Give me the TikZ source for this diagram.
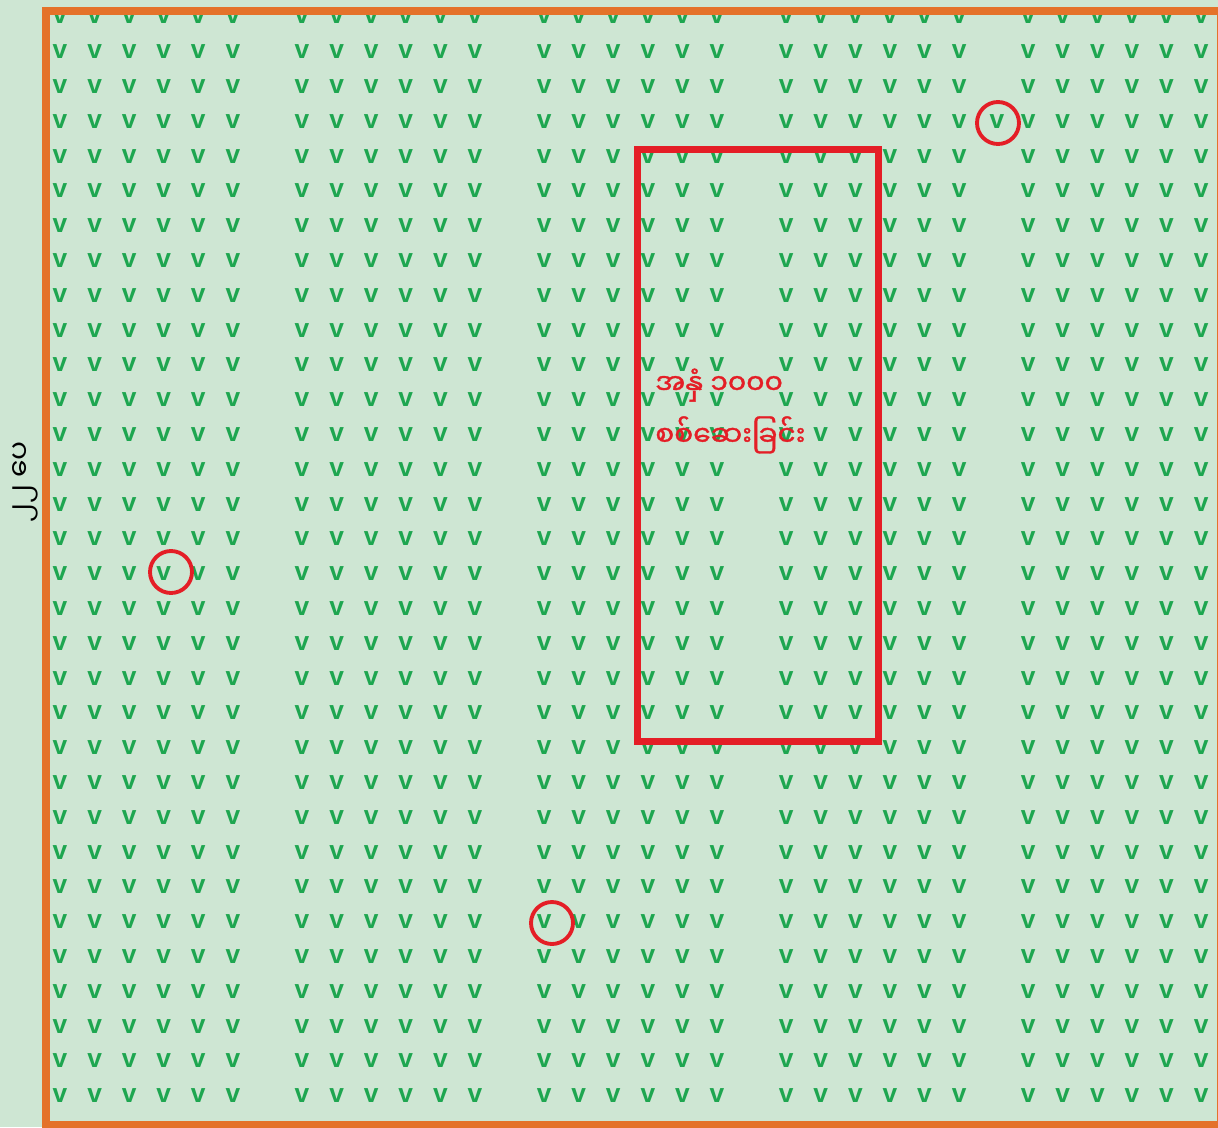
\documentclass[tikz,border=0pt]{standalone}
\usepackage{fontspec}
\setmainfont{Liberation Sans}
\newfontfamily\mmfont[Script=Myanmar]{Noto Sans Myanmar UI}
\newfontfamily\mmboldfont[Script=Myanmar,FakeBold=1.2]{Noto Sans Myanmar UI}
\usetikzlibrary{positioning}
\definecolor{fieldbg}{RGB}{206,230,211}
\definecolor{plantgreen}{RGB}{30,166,80}
\definecolor{edgeorange}{RGB}{228,114,42}
\definecolor{markred}{RGB}{228,30,38}

\begin{document}
\begin{tikzpicture}[x=0.02cm,y=-0.02cm,
  plant/.style={text=plantgreen,font=\fontsize{15}{15}\selectfont\bfseries,inner sep=0pt},
  ring/.style={draw=markred,circle,line width=2.2pt,minimum size=0.84cm,inner sep=0pt}]
\useasboundingbox (0,0) rectangle (1218,1127);
\fill[fieldbg] (0,0) rectangle (1218,1127);
% rows of plants, every seventh column left empty
\foreach \c in {0,...,33}{
  \pgfmathtruncatemacro\gap{mod(\c,7)}
  \ifnum\gap=6\relax\else
  \foreach \r in {0,...,31}{
    \node[plant] (v-\c-\r) at ({60+\c*34.58},{17+\r*34.8}) {v};
  }
  \fi
}
\node[plant] (v-extra) at (997,122) {v};
% field edge
\draw[edgeorange,line width=4pt] (46,11) rectangle (1221,1124);
% sample area
\node[draw=markred,line width=4pt,minimum width=4.84cm,minimum height=11.86cm,inner sep=0pt] (sample) at (758,445.5) {};
\node[text=markred,font=\mmboldfont\fontsize{16}{29.5}\selectfont,align=left,anchor=west,inner sep=0pt] (samplelabel) at (655,411) {အနှံ ၁၀၀၀\\စစ်ဆေးခြင်း};
\node[ring] (ring-a) at (998,123) {};
\node[ring] (ring-b) at (171,572) {};
\node[ring] (ring-c) at (552,923) {};
% side length
\node[rotate=90,font=\mmfont\fontsize{16}{16}\selectfont,inner sep=0pt] (side) at (25,482) {၂၂ ပေ};
\end{tikzpicture}
\end{document}
